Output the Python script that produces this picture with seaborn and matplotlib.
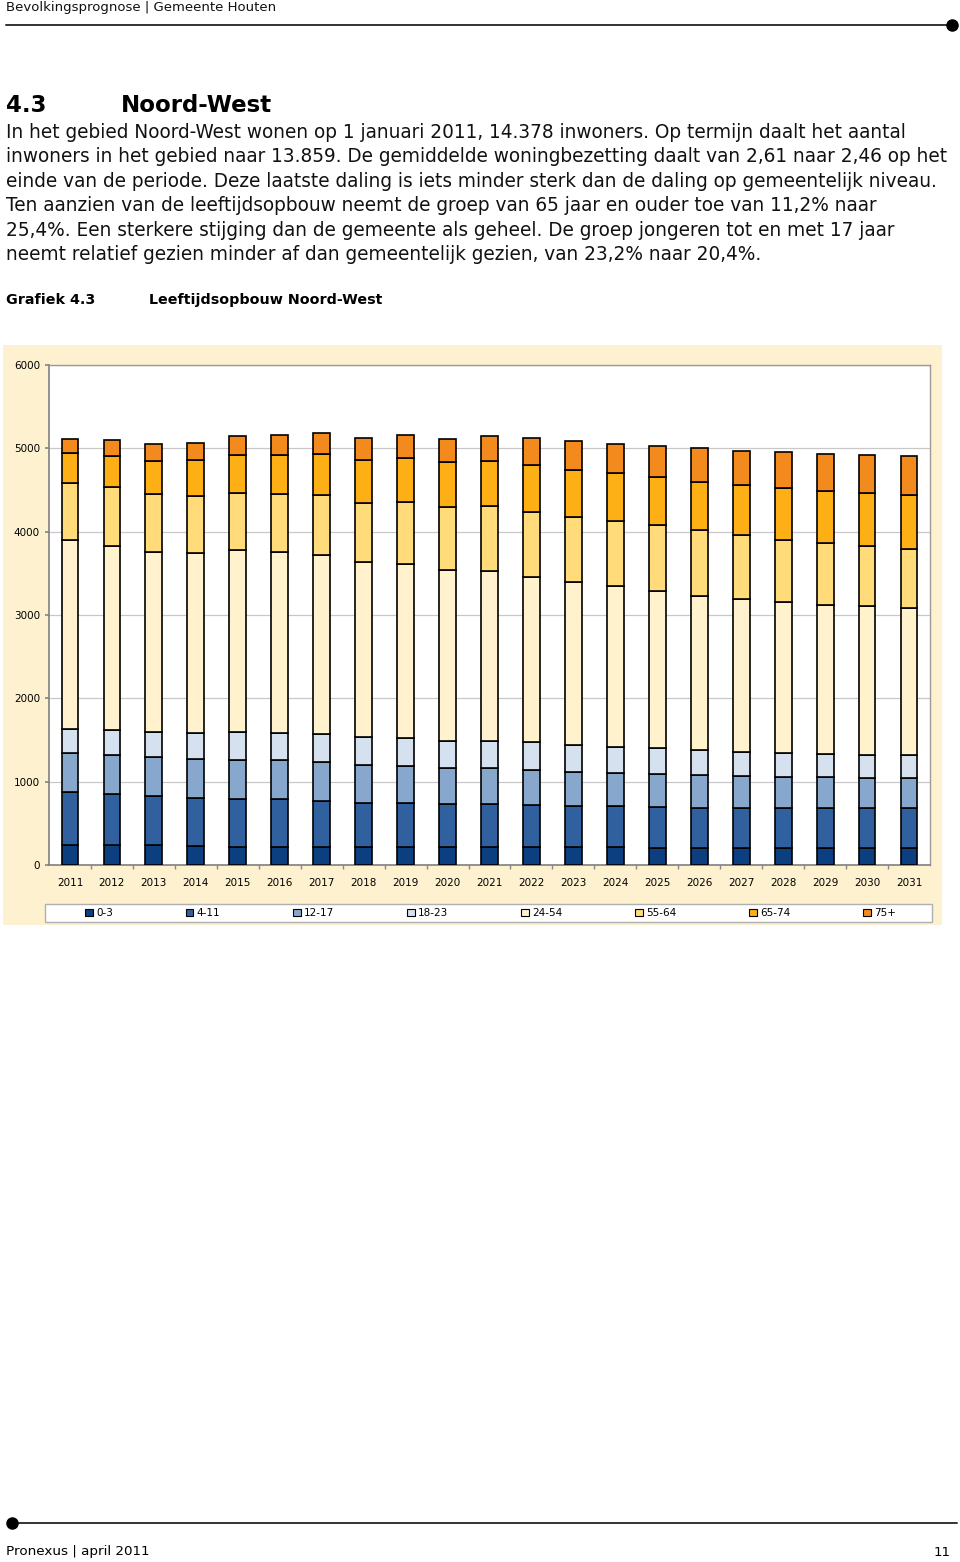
import matplotlib
matplotlib.use("Agg")
import matplotlib.pyplot as plt
from matplotlib.patches import Patch, Rectangle
import numpy as np
import seaborn as sns

# ---- data ----
years = [str(y) for y in range(2011, 2032)]
groups = ["0-3", "4-11", "12-17", "18-23", "24-54", "55-64", "65-74", "75+"]
colors = ["#0b3f7f", "#30619e", "#87a8cc", "#d5e1ee",
          "#fff2cc", "#ffdb7a", "#fcb016", "#f28a1e"]

age_0_3 = [244, 244, 235, 230, 221, 221, 221, 221, 217, 217, 217,
           217, 212, 212, 208, 208, 208, 203, 203, 203, 203]
age_4_11 = [636, 604, 591, 577, 577, 568, 550, 528, 523, 518, 514,
            509, 501, 492, 487, 482, 478, 478, 478, 478, 478]
age_12_17 = [469, 478, 469, 470, 465, 470, 461, 446, 446, 433, 428,
             411, 401, 401, 392, 388, 383, 379, 370, 366, 361]
age_18_23 = [284, 293, 302, 311, 338, 324, 338, 343, 343, 325, 325,
             338, 325, 316, 320, 302, 289, 289, 284, 279, 280]
age_24_54 = [2269, 2215, 2156, 2156, 2179, 2179, 2152, 2093, 2084, 2044, 2039,
             1985, 1962, 1922, 1882, 1854, 1836, 1809, 1791, 1782, 1768]
age_55_64 = [686, 700, 695, 690, 686, 690, 717, 718, 740, 758, 781,
             776, 776, 785, 789, 785, 762, 748, 740, 717, 699]
age_65_74 = [352, 370, 401, 424, 456, 474, 492, 514, 537, 545, 545,
             568, 569, 577, 573, 582, 600, 614, 618, 636, 654]
age_75_plus = [167, 194, 203, 212, 221, 239, 248, 261, 271, 271, 298,
               316, 347, 352, 374, 402, 415, 433, 451, 461, 470]

series = [age_0_3, age_4_11, age_12_17, age_18_23,
          age_24_54, age_55_64, age_65_74, age_75_plus]

body_lines = [
    "In het gebied Noord-West wonen op 1 januari 2011, 14.378 inwoners. Op termijn daalt het aantal",
    "inwoners in het gebied naar 13.859. De gemiddelde woningbezetting daalt van 2,61 naar 2,46 op het",
    "einde van de periode. Deze laatste daling is iets minder sterk dan de daling op gemeentelijk niveau.",
    "Ten aanzien van de leeftijdsopbouw neemt de groep van 65 jaar en ouder toe van 11,2% naar",
    "25,4%. Een sterkere stijging dan de gemeente als geheel. De groep jongeren tot en met 17 jaar",
    "neemt relatief gezien minder af dan gemeentelijk gezien, van 23,2% naar 20,4%.",
]

sns.set_theme(style="white")
plt.rcParams["font.family"] = ["DejaVu Sans"]
plt.rcParams["text.color"] = "black"

W, H = 960, 1562
fig = plt.figure(figsize=(W / 100, H / 100), dpi=100)

# page overlay in pixel coordinates
page = fig.add_axes([0, 0, 1, 1])
page.set_xlim(0, W)
page.set_ylim(H, 0)
page.axis("off")
page.set_zorder(0)

page.text(6, 7, "Bevolkingsprognose | Gemeente Houten", fontsize=9.5,
          va="center", ha="left", color="#111111")
page.plot([6, 952], [25, 25], color="#333333", lw=1.4)
page.plot([952], [25], "o", color="black", ms=8)

page.text(6, 105, "4.3", fontsize=16.5, fontweight="bold", va="center")
page.text(121, 105, "Noord-West", fontsize=16.5, fontweight="bold", va="center")
for i, line in enumerate(body_lines):
    page.text(6, 132 + i * 24.6, line, fontsize=13.35, va="center", color="#111111")

page.text(6, 300, "Grafiek 4.3", fontsize=10.3, fontweight="bold", va="center")
page.text(149, 300, "Leeftijdsopbouw Noord-West", fontsize=10.3,
          fontweight="bold", va="center")

# chart panel background + legend box
page.add_patch(Rectangle((3, 345), 939, 580, facecolor="#fdf1cf",
                         edgecolor="none"))
page.add_patch(Rectangle((45, 904), 887, 18, facecolor="white",
                         edgecolor="#b0b0b0", lw=1.0))

page.plot([12, 957], [1523, 1523], color="#333333", lw=1.4)
page.plot([12], [1523], "o", color="black", ms=8)
page.text(6, 1552, "Pronexus | april 2011", fontsize=9.7, va="center")
page.text(951, 1552, "11", fontsize=9.7, va="center", ha="right")

# ---- chart ----
ax = fig.add_axes([49 / W, 1 - 865 / H, 881 / W, 500 / H])
ax.set_zorder(2)
ax.set_facecolor("white")

bottom = np.zeros(len(years))
for name, vals, col in zip(groups, series, colors):
    sns.barplot(x=years, y=vals, bottom=bottom, color=col, width=0.4,
                edgecolor="black", linewidth=1.2, saturation=1, ax=ax,
                zorder=3)
    bottom = bottom + np.array(vals)

ax.set_ylim(0, 6000)
ax.set_xlim(-0.5, len(years) - 0.5)
ax.set_yticks(range(0, 6001, 1000))
ax.set_yticklabels([str(v) for v in range(0, 6001, 1000)], fontsize=7.5)
ax.yaxis.grid(True, color="#c8c8c8", lw=0.9, zorder=0)
ax.set_axisbelow(True)
ax.set_xlabel("")
ax.set_ylabel("")
ax.set_xticks(range(len(years)))
ax.set_xticklabels(years, fontsize=7.5)
ax.set_xticks(np.arange(0.5, len(years) - 0.5, 1), minor=True)
ax.tick_params(axis="x", which="major", length=0, pad=9, labelcolor="black")
ax.tick_params(axis="x", which="minor", length=3, color="#888888",
               direction="out", bottom=True)
ax.tick_params(axis="y", length=3, color="#888888", direction="out",
               left=True, pad=3.5, labelcolor="black")
for side in ["top", "right"]:
    ax.spines[side].set_color("#9a9a9a")
    ax.spines[side].set_linewidth(1.0)
for side in ["left", "bottom"]:
    ax.spines[side].set_color("#808080")
    ax.spines[side].set_linewidth(1.2)

# legend: entries spread over the box, spacing tuned to span ~86..895 px
handles = [Patch(facecolor=c, edgecolor="black", linewidth=0.8) for c in colors]
legend_fs = 7.5
target_span = 895 - 84


def make_legend(colsp):
    return fig.legend(handles, groups, loc="center", ncol=8,
                      bbox_to_anchor=(490.5 / W, 1 - 913 / H),
                      frameon=False, fontsize=legend_fs, handlelength=0.75,
                      handleheight=0.75, handletextpad=0.3, borderpad=0,
                      borderaxespad=0, columnspacing=colsp)


leg = make_legend(5.0)
fig.canvas.draw()
span = leg.get_window_extent().width
fs_px = legend_fs * 100 / 72
colsp = 5.0 + (target_span - span) / (7 * fs_px)
leg.remove()
leg = make_legend(colsp)
leg.set_zorder(5)

fig.savefig("out.png", dpi=100)
